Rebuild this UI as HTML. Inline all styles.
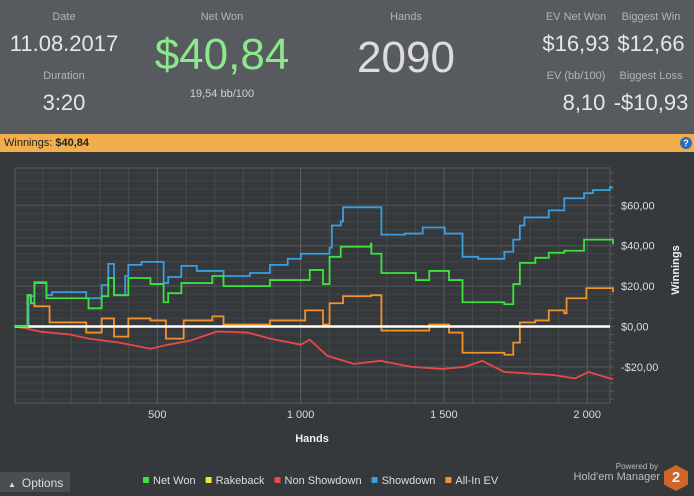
<!DOCTYPE html>
<html><head><meta charset="utf-8"><style>
body{margin:0;width:694px;height:492px;overflow:hidden;background:#36393c;font-family:"Liberation Sans",sans-serif;position:relative}
.hdr{position:absolute;left:0;top:0;width:694px;height:134px;background:#575a5e}
.t{position:absolute;color:#c8c8c8;white-space:nowrap;transform:translateX(-50%)}
.lbl{font-size:11px;color:#b4b4b4}
.val{font-size:22px;color:#e6e6e6}
.bar{position:absolute;left:0;top:134px;width:694px;height:18px;background:#f2ae4c;font-size:11px;line-height:18px;color:#222}
</style></head><body>
<div class="hdr">
<div class="t lbl" style="left:64px;top:11px">Date</div>
<div class="t val" style="left:64px;top:31px">11.08.2017</div>
<div class="t lbl" style="left:64px;top:70px">Duration</div>
<div class="t val" style="left:64px;top:90px">3:20</div>
<div class="t lbl" style="left:222px;top:11px">Net Won</div>
<div class="t" style="left:222px;top:30px;font-size:44px;color:#8ce88c">$40,84</div>
<div class="t" style="left:222px;top:88px;font-size:11px;color:#d0d0d0">19,54 bb/100</div>
<div class="t lbl" style="left:406px;top:11px">Hands</div>
<div class="t" style="left:406px;top:33px;font-size:44px;color:#dcdcdc">2090</div>
<div class="t lbl" style="left:576px;top:11px">EV Net Won</div>
<div class="t val" style="left:576px;top:31px">$16,93</div>
<div class="t lbl" style="left:651px;top:11px">Biggest Win</div>
<div class="t val" style="left:651px;top:31px">$12,66</div>
<div class="t lbl" style="left:576px;top:70px">EV (bb/100)</div>
<div class="t val" style="left:584px;top:90px">8,10</div>
<div class="t lbl" style="left:651px;top:70px">Biggest Loss</div>
<div class="t val" style="left:651px;top:90px">-$10,93</div>
</div>
<div class="bar"><span style="margin-left:4px">Winnings: <b>$40,84</b></span>
<span style="position:absolute;right:2px;top:3px;width:12px;height:12px;border-radius:50%;background:#2a6db5;color:#fff;font-size:9px;line-height:12px;text-align:center;font-weight:bold">?</span></div>
<svg id="chart" width="694" height="340" style="position:absolute;left:0;top:152px"></svg>
<div style="position:absolute;left:0;top:472px;width:70px;height:20px;background:#4a4d51;color:#ddd;font-size:12px;line-height:22px"><span style="font-size:8px;margin:0 6px 0 8px">▲</span>Options</div>
<div style="position:absolute;left:560px;top:462px;width:100px;color:#bbb;text-align:right">
<div style="font-size:8px;margin-right:2px">Powered by</div><div style="font-size:11px">Hold'em Manager</div></div>
<div style="position:absolute;left:664px;top:465px;width:24px;height:26px;background:#d0652a;clip-path:polygon(50% 0,100% 25%,100% 75%,50% 100%,0 75%,0 25%);color:#eee;font-weight:bold;font-size:15px;text-align:center;line-height:26px">2</div>
<script>
const blueH=[0,51,71,113,133,252,306,329,349,388,399,445,522,538,584,638,731,823,893,955,1001,1101,1109,1140,1148,1282,1364,1426,1503,1565,1619,1711,1742,1765,1781,1866,1920,1989,2020,2079,2090];
const blueV=[0,15,22,15.5,17,14,20.5,31,15.5,25,30.5,32,21.5,24.5,30,27.5,25,26.5,30.5,33.5,36,39,50,52,59,45.5,46,49,46,34.5,33.5,37,43,50,54,57.5,63.5,66,67.5,69,69];
const greenH=[0,47,59,71,113,260,306,329,349,399,476,522,538,584,692,731,893,1032,1078,1101,1140,1245,1247,1282,1402,1449,1518,1565,1711,1742,1765,1819,1866,1920,1989,2090];
const greenV=[0,15.5,11.5,21.5,14,9,15,24,15.5,24,21,12,16.5,21.5,25,20,23,28,21,34.5,39.5,41,36,26.5,23,27.5,23,12,11,21,31.5,34,36.5,37.5,43,40.8];
const orangeH=[0,47,59,71,124,252,306,349,399,476,530,592,692,731,893,1016,1078,1101,1148,1245,1282,1449,1518,1565,1711,1742,1765,1819,1866,1920,1928,1997,2090];
const orangeV=[0,15.5,11.5,10,2,-3,4,-5,4,3,-6,3,5,1,3,8,1,11.5,15,15.5,-2,1,-3,-13,-14,-8,2,3,8,6.5,14,19,17];
const redH=[0,44,90,198,260,368,476,538,615,708,816,893,1001,1032,1093,1186,1279,1387,1495,1572,1634,1711,1881,1958,2004,2079,2090];
const redV=[0,-1,-2.5,-4,-6,-8,-11,-9,-7,-2.5,-3,-6,-9,-6.5,-14.5,-18.5,-17,-20,-21,-20,-17,-22.5,-24,-25.7,-22.5,-25.7,-26];
const yTicks=[60,40,20,0,-20];
const yTickLabels=["$60,00","$40,00","$20,00","$0,00","-$20,00"];
const xTicks=[500,1000,1500,2000];
const xTickLabels=["500","1 000","1 500","2 000"];
const legendNames=["Net Won","Rakeback","Non Showdown","Showdown","All-In EV"];
const legendColors=["#3de23d","#f2e23a","#e84848","#3a9ee0","#f0922e"];
const OY=152,L=15,R=610,T=168-OY,B=403-OY;
const xs=h=>14+h*0.2866, ys=v=>(326.5-OY)-v*2.02;
const svg=document.getElementById('chart'),NS='http://www.w3.org/2000/svg';
function mk(tag,at,p){const e=document.createElementNS(NS,tag);for(const k in at)e.setAttribute(k,at[k]);(p||svg).appendChild(e);return e;}
let bg=mk('rect',{x:L,y:T,width:R-L,height:B-T,fill:'#36393c'});


for(let v=-36;v<=76;v+=4){let g=mk('line',{x1:L,x2:R,y1:ys(v),y2:ys(v),stroke:v%20?'#404347':'#55585c'});


mk('line',{x1:R,x2:R+4,y1:ys(v),y2:ys(v),stroke:'#55585c'});}
for(let h=100;h<=2000;h+=100){let g=mk('line',{x1:xs(h),x2:xs(h),y1:T,y2:B,stroke:h%500?'#474a4e':'#5a5d61'});

}
mk('rect',{x:L,y:T,width:R-L,height:B-T,fill:'none',stroke:'#5a5d61'});
function series(H,V,color,step,name){let d='M'+xs(H[0])+','+ys(V[0]);
for(let i=1;i<H.length;i++){if(step)d+='L'+xs(H[i])+','+ys(V[i-1]);d+='L'+xs(H[i])+','+ys(V[i]);}
let p=mk('path',{d:d,fill:'none',stroke:color,'stroke-width':1.8});

}
series(redH,redV,'#e84848',false,'non-showdown-line');
series(orangeH,orangeV,'#f0922e',true,'all-in-ev-line');
series(blueH,blueV,'#3a9ee0',true,'showdown-line');
let z=mk('line',{x1:L,x2:R,y1:ys(0),y2:ys(0),stroke:'#fff','stroke-width':2.5});


series(greenH,greenV,'#3de23d',true,'net-won-line');
yTicks.forEach((v,i)=>{let t=mk('text',{x:621,y:ys(v)+4,fill:'#ddd','font-size':11});t.textContent=yTickLabels[i];

});
xTicks.forEach((h,i)=>{let t=mk('text',{x:xs(h),y:266,fill:'#ddd','font-size':11,'text-anchor':'middle'});t.textContent=xTickLabels[i];

});
let xt=mk('text',{x:312,y:290,fill:'#eee','font-size':11,'font-weight':'bold','text-anchor':'middle'});xt.textContent='Hands';


let yt=mk('text',{x:0,y:0,fill:'#eee','font-size':11,'font-weight':'bold','text-anchor':'middle',transform:'translate(679,118) rotate(-90)'});yt.textContent='Winnings';


let lx=143;
legendNames.forEach((n,i)=>{let g=mk('g',{});


mk('rect',{x:lx,y:325,width:6,height:6,fill:legendColors[i]},g);
let t=mk('text',{x:lx+10,y:332,fill:'#ddd','font-size':11},g);t.textContent=n;
lx+=10+t.getComputedTextLength()+10;});
</script>
</body></html>
